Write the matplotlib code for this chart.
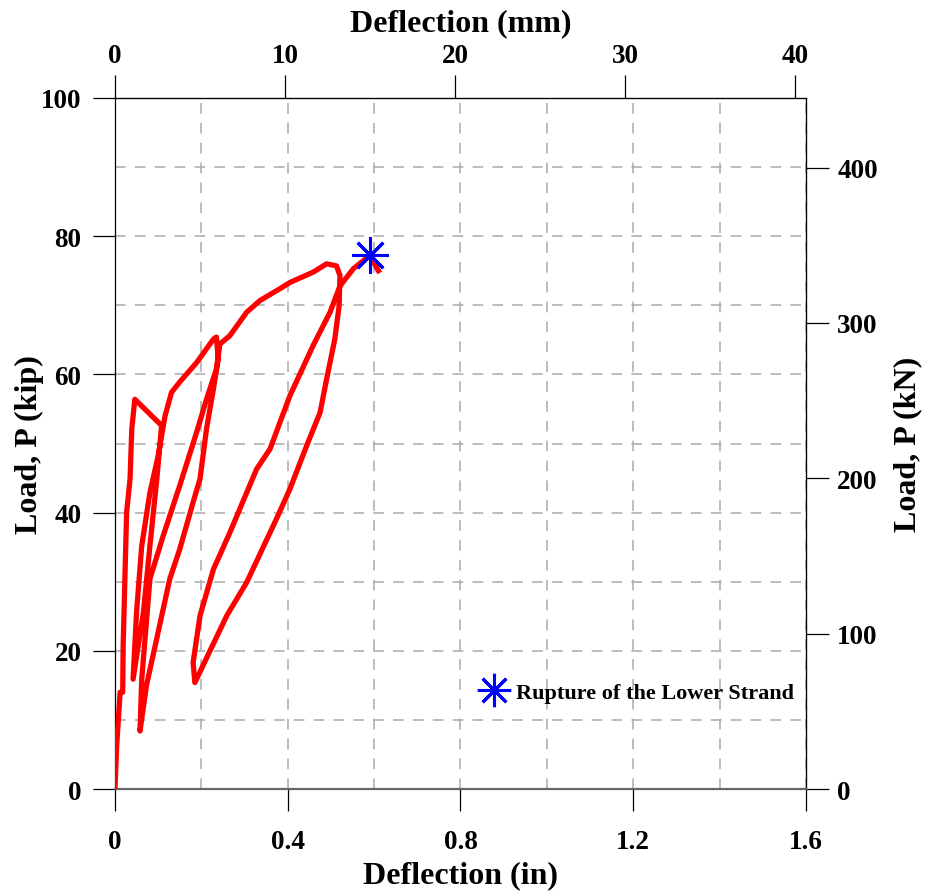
import matplotlib.pyplot as plt
from matplotlib.lines import Line2D

plt.rcParams['font.family'] = ['Liberation Serif', 'DejaVu Serif']
plt.rcParams['font.weight'] = 'bold'

# load-deflection trace (deflection in, load kip)
defl_in = [0.000, 0.004, 0.008, 0.012, 0.018, 0.019, 0.023, 0.027, 0.035, 0.039, 0.046,
           0.108, 0.097, 0.081, 0.066, 0.042,
           0.050, 0.062, 0.081, 0.100, 0.116,
           0.131, 0.150, 0.189, 0.228, 0.235, 0.239,
           0.228, 0.212, 0.197, 0.181, 0.150, 0.127, 0.073, 0.058,
           0.062, 0.081, 0.112, 0.150, 0.189, 0.212, 0.235, 0.243,
           0.266, 0.305, 0.336, 0.382, 0.405, 0.459, 0.490, 0.513, 0.521, 0.519,
           0.509, 0.490, 0.475, 0.444, 0.405, 0.374, 0.305, 0.259, 0.185,
           0.181, 0.197, 0.228, 0.266, 0.328, 0.359, 0.405, 0.459, 0.498, 0.521, 0.552, 0.590, 0.610]
load_kip = [0.0, 6.3, 10.1, 14.0, 14.0, 20.7, 30.4, 40.0, 44.9, 52.1, 56.4,
            52.6, 44.9, 35.2, 25.6, 15.9,
            25.6, 35.2, 42.9, 48.2, 54.0,
            57.4, 58.9, 61.7, 65.1, 65.4, 62.2,
            57.9, 52.1, 44.9, 41.5, 34.7, 30.4, 15.0, 8.4,
            15.9, 30.4, 36.7, 43.9, 51.6, 56.4, 60.8, 64.4,
            65.6, 69.0, 70.7, 72.4, 73.3, 74.8, 76.0, 75.7, 74.3, 69.9,
            65.1, 59.3, 54.5, 49.7, 43.4, 39.1, 29.9, 25.1, 15.4,
            18.3, 25.1, 31.8, 37.1, 46.3, 49.2, 56.9, 64.2, 69.0, 72.8, 75.3, 77.2, 75.0]

rupture_in = 0.590
rupture_kip = 77.3

fig = plt.figure(figsize=(9.27, 8.95), dpi=100)
ax = fig.add_axes([0.124, 0.1173, 0.7455, 0.7721])

ax.plot(defl_in, load_kip, color='red', lw=3.8, solid_joinstyle='round', zorder=3)
ax.plot([rupture_in], [rupture_kip], linestyle='none', marker=(8, 2, 0), markersize=26,
        markeredgewidth=2.2, color='blue', zorder=4)

ax.set_xlim(0, 1.6)
ax.set_ylim(0, 100)
ax.set_xticks([0, 0.4, 0.8, 1.2, 1.6])
ax.set_xticklabels(['0', '0.4', '0.8', '1.2', '1.6'])
ax.set_yticks([0, 20, 40, 60, 80, 100])
ax.set_xticks([0.2, 0.6, 1.0, 1.4], minor=True)
ax.set_yticks([10, 30, 50, 70, 90], minor=True)
ax.grid(which='both', color='#aaaaaa', linestyle=(0, (7, 6)), lw=1.1)
ax.tick_params(which='minor', length=0)
ax.tick_params(which='major', direction='out', length=16, width=0.9, labelsize=19.5)
ax.tick_params(axis='x', pad=13)
ax.tick_params(axis='y', pad=8)

for s in ax.spines.values():
    s.set_linewidth(0.9)
ax.spines['bottom'].set_color('#666666')
ax.spines['bottom'].set_linewidth(1.6)

ax.set_xlabel('Deflection (in)', fontsize=23, fontweight='bold', labelpad=4)
ax.set_ylabel('Load, P (kip)', fontsize=23, fontweight='bold', labelpad=-2)

top = ax.secondary_xaxis('top', functions=(lambda v: v * 25.4, lambda v: v / 25.4))
top.set_xticks([0, 10, 20, 30, 40])
top.tick_params(direction='out', length=16.5, width=0.9, labelsize=19.5, pad=5)
top.set_xlabel('Deflection (mm)', fontsize=23, fontweight='bold', labelpad=9)

right = ax.secondary_yaxis('right', functions=(lambda v: v * 4.44822, lambda v: v / 4.44822))
right.set_yticks([0, 100, 200, 300, 400])
right.tick_params(direction='out', length=16.5, width=0.9, labelsize=19.5, pad=6)
right.set_ylabel('Load, P (kN)', fontsize=23, fontweight='bold', labelpad=11)

handle = Line2D([], [], linestyle='none', marker=(8, 2, 0), markersize=24,
                markeredgewidth=2.2, color='blue')
ax.legend([handle], ['Rupture of the Lower Strand'], loc='center left',
          bbox_to_anchor=(0.5, 0.14), frameon=False, handlelength=1.2,
          handletextpad=0.4, prop={'size': 16, 'weight': 'bold'})

fig.savefig('out.png', dpi=100)
